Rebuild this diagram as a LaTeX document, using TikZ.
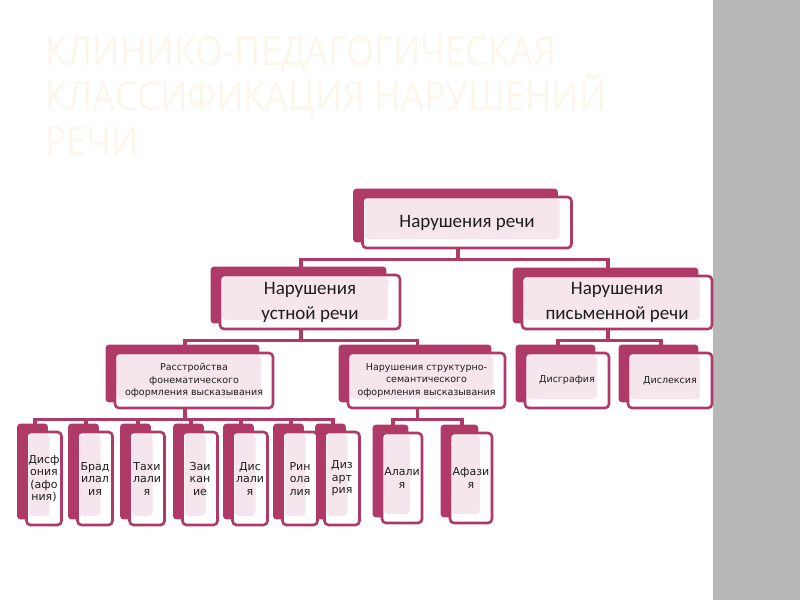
\documentclass[tikz,border=0pt]{standalone}
\usepackage{fontspec}
\usepackage{tikz}
\usetikzlibrary{calc,backgrounds}

\newfontfamily\bigfont{Carlito}
\newfontfamily\smallfont{DejaVu Sans}
\newfontfamily\titlefont[FakeStretch=0.9]{Open Sans}

\definecolor{berry}{HTML}{B03A67}
\definecolor{blush}{HTML}{F4E6EC}
\definecolor{ink}{HTML}{1E1E1E}
\definecolor{slate}{HTML}{B8B8B8}
\definecolor{cream}{HTML}{FCF6EC}

\begin{document}
\begin{tikzpicture}[
    x=1pt, y=-1pt,
    card/.style={
      draw=berry,
      line width=2.6pt,
      rounded corners=4pt,
      fill=white,
      align=center,
      inner sep=0pt,
      text=ink,
      path picture={
        \fill[blush] ($(path picture bounding box.south west)+(2pt,9pt)$)
          rectangle ($(path picture bounding box.north east)+(-12pt,-2pt)$);
      }
    },
    big/.style={card, font=\bigfont\fontsize{19}{25}\selectfont},
    mid/.style={card, font=\smallfont\fontsize{9.5}{12.5}\selectfont,
      minimum height=55pt},
    tall/.style={card, font=\smallfont\fontsize{11}{12.5}\selectfont,
      minimum width=35pt, minimum height=93pt},
    link/.style={draw=berry, line width=3.2pt}
  ]
  \useasboundingbox (0,0) rectangle (800,600);

  % title
  \node[anchor=north west, align=left, inner sep=0pt, text=cream,
    font=\titlefont\fontsize{40}{45}\selectfont] (title) at (45,36)
    {КЛИНИКО-ПЕДАГОГИЧЕСКАЯ\\КЛАССИФИКАЦИЯ НАРУШЕНИЙ\\РЕЧИ};

  % level 1 and 2
  \node[big, minimum width=209pt, minimum height=51pt] (speech) at (467,222.5)
    {Нарушения речи};
  \node[big, minimum width=180pt, minimum height=54pt] (oral) at (310,302)
    {Нарушения\\устной речи};
  \node[big, minimum width=190pt, minimum height=53pt] (written) at (617,302.5)
    {Нарушения\\письменной речи};

  % level 3
  \node[mid, minimum width=158pt] (phonem) at (194,380.5)
    {Расстройства\\фонематического\\оформления высказывания};
  \node[mid, minimum width=157pt] (struct) at (426.5,380.5)
    {Нарушения структурно-\\семантического\\оформления высказывания};
  \node[mid, minimum width=84pt] (dysgraphia) at (567,380.5) {Дисграфия};
  \node[mid, minimum width=84pt] (dyslexia) at (670,380.5) {Дислексия};

  % level 4
  \node[tall] (dysphonia) at (44,478.5) {Дисф\\ония\\(афо\\ния)};
  \node[tall] (bradylalia) at (95,478.5) {Брад\\илал\\ия};
  \node[tall] (tachylalia) at (147,478.5) {Тахи\\лали\\я};
  \node[tall] (stutter) at (200,478.5) {Заи\\кан\\ие};
  \node[tall] (dyslalia) at (250,478.5) {Дис\\лали\\я};
  \node[tall] (rhinolalia) at (300,478.5) {Рин\\ола\\лия};
  \node[tall] (dysarthria) at (342,478.5) {Диз\\арт\\рия};
  \node[tall, minimum width=40pt, minimum height=90pt] (alalia) at (402,478)
    {Алали\\я};
  \node[tall, minimum width=42pt, minimum height=90pt] (aphasia) at (471,478)
    {Афази\\я};

  % tree connectors
  \foreach \a/\b in {speech/oral, speech/written, oral/phonem, oral/struct,
      written/dysgraphia, written/dyslexia, phonem/dysphonia,
      phonem/bradylalia, phonem/tachylalia, phonem/stutter, phonem/dyslalia,
      phonem/rhinolalia, phonem/dysarthria, struct/alalia, struct/aphasia}
    \draw[link] ($(\a.south)+(-9pt,0pt)$) -- ++(0pt,-10pt)
      -| ($(\b.north)+(-9pt,7pt)$);

  \begin{scope}[on background layer]
    \fill[white] (0,0) rectangle (800,600);
    \fill[slate] (713,0) rectangle (800,600);
    \foreach \n in {speech,oral,written,phonem,struct,dysgraphia,dyslexia,
        dysphonia,bradylalia,tachylalia,stutter,dyslalia,rhinolalia,
        dysarthria,alalia,aphasia}
      \fill[berry, rounded corners=3pt] ($(\n.north west)+(-8pt,7pt)$)
        rectangle ($(\n.south east)+(-15pt,7pt)$);
  \end{scope}
\end{tikzpicture}
\end{document}
